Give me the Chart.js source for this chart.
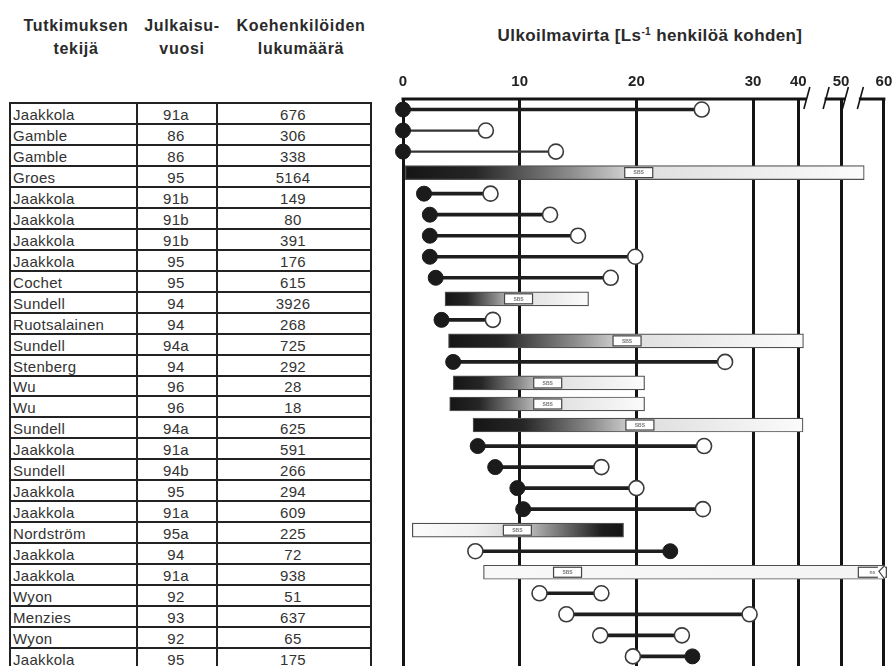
<!DOCTYPE html>
<html>
<head>
<meta charset="utf-8">
<script src="https://cdn.jsdelivr.net/npm/chart.js@4.4.0/dist/chart.umd.min.js"></script>
<style>
  html, body { margin: 0; padding: 0; background: #fff; }
  body { width: 893px; height: 666px; position: relative; overflow: hidden;
         font-family: 'Liberation Sans', Arial, sans-serif; color: #2a2a2a; }
  .head { position: absolute; top: 14px; text-align: center; font-weight: bold;
          font-size: 16px; letter-spacing: 0.7px; line-height: 23px; }
  #title { position: absolute; left: 440px; width: 420px; top: 26px; text-align: center;
           font-weight: bold; font-size: 17px; letter-spacing: 0.4px; line-height: 20px; }
  #title sup { font-size: 10px; vertical-align: 6px; line-height: 0; }
  #table { position: absolute; left: 9px; top: 102px; width: 363px; height: 568px;
           border: 2px solid #222; box-sizing: border-box; }
  .row { position: absolute; left: 0; right: 0; height: 21px; box-sizing: border-box;
         border-bottom: 2px solid #222; font-size: 15px; letter-spacing: 0.3px;
         line-height: 20px; color: #333; }
  .row span { position: absolute; top: 1px; white-space: nowrap; }
  .vline { position: absolute; top: 0; bottom: 0; width: 2px; background: #222; }
  #wrap { position: absolute; left: 380px; top: 0; width: 513px; height: 676px; }
</style>
</head>
<body>
<div class="head" style="left:0;width:152px">Tutkimuksen<br>tekijä</div>
<div class="head" style="left:132px;width:100px">Julkaisu-<br>vuosi</div>
<div class="head" style="left:226px;width:150px">Koehenkilöiden<br>lukumäärä</div>
<div id="title">Ulkoilmavirta [Ls<sup>-1</sup> henkilöä kohden]</div>
<div id="table"></div>
<div id="wrap"><canvas id="c"></canvas></div>
<script>
// table columns
const AUTHORS = ['Jaakkola','Gamble','Gamble','Groes','Jaakkola','Jaakkola','Jaakkola','Jaakkola','Cochet',
  'Sundell','Ruotsalainen','Sundell','Stenberg','Wu','Wu','Sundell','Jaakkola','Sundell','Jaakkola',
  'Jaakkola','Nordström','Jaakkola','Jaakkola','Wyon','Menzies','Wyon','Jaakkola'];
const YEARS = ['91a','86','86','95','91b','91b','91b','95','95','94','94','94a','94','96','96','94a',
  '91a','94b','95','91a','95a','94','91a','92','93','92','95'];
const SUBJECTS = [676,306,338,5164,149,80,391,176,615,3926,268,725,292,28,18,625,591,266,294,609,
  225,72,938,51,637,65,175];

// dumbbells: low / high end, F = filled dot, O = open dot
const DB_LOW  = [0,0,0,null,1.8,2.3,2.3,2.3,2.8,null,3.3,null,4.3,null,null,null,6.4,7.9,9.8,10.3,
  null,6.2,null,11.7,14.0,16.9,19.7];
const DB_HIGH = [25.6,7.1,13.1,null,7.5,12.6,15.0,19.9,17.8,null,7.7,null,27.6,null,null,null,25.8,
  17.0,20.0,25.7,null,22.9,null,17.0,29.7,23.9,24.8];
const LOW_KIND  = ['F','F','F',null,'F','F','F','F','F',null,'F',null,'F',null,null,null,'F','F','F','F',
  null,'O',null,'O','O','O','O'];
const HIGH_KIND = ['O','O','O',null,'O','O','O','O','O',null,'O',null,'O',null,null,null,'O','O','O','O',
  null,'F',null,'O','O','O','F'];

// SBS bars: range, label position, shading (L = dark left, R = dark right, N = none)
const BAR_FROM = [null,null,null,0.2,null,null,null,null,null,3.6,null,3.9,null,4.3,4.0,6.0,null,null,
  null,null,0.8,null,6.9,null,null,null,null];
const BAR_TO   = [null,null,null,55.4,null,null,null,null,null,15.9,null,41.2,null,20.7,20.7,41.1,null,
  null,null,null,18.9,null,60,null,null,null,null];
const BAR_SBS  = [null,null,null,20.2,null,null,null,null,null,9.9,null,19.2,null,12.4,12.4,20.3,null,
  null,null,null,9.8,null,14.1,null,null,null,null];
const BAR_SHADE = [null,null,null,'L',null,null,null,null,null,'L',null,'L',null,'L','L','L',null,null,
  null,null,'R',null,'N',null,null,null,null];
const NS_AT = 57.3;   // second box on the open-ended bar
const NS_ROW = 22;

const X_TICKS = [0,10,20,30,40,50,60];

// broken axis: linear 0-30, compressed after
const AXIS_VALUES = [0, 30, 40, 50, 60];
const AXIS_FRACS  = [0, 0.728, 0.822, 0.911, 1];
const AXIS_BREAKS = [[42, 46.5], [51, 54.5]];

// ---- table
const tbl = document.getElementById('table');
AUTHORS.forEach((a, i) => {
  const r = document.createElement('div');
  r.className = 'row';
  r.style.top = (i * 20.96) + 'px';
  if (i === AUTHORS.length - 1) r.style.borderBottom = 'none';
  r.innerHTML = '<span style="left:2px">' + a + '</span>' +
    '<span style="left:125px;width:80px;text-align:center">' + YEARS[i] + '</span>' +
    '<span style="left:205px;width:154px;text-align:center">' + SUBJECTS[i] + '</span>';
  tbl.appendChild(r);
});
[125, 205].forEach(x => {
  const v = document.createElement('div');
  v.className = 'vline';
  v.style.left = x + 'px';
  tbl.appendChild(v);
});

// ---- scale
class BrokenScale extends Chart.LinearScale {
  getPixelForValue(value) {
    const n = AXIS_VALUES.length;
    const v = Math.max(AXIS_VALUES[0], Math.min(value, AXIS_VALUES[n - 1]));
    let k = 0;
    while (k < n - 2 && v > AXIS_VALUES[k + 1]) k++;
    const t = (v - AXIS_VALUES[k]) / (AXIS_VALUES[k + 1] - AXIS_VALUES[k]);
    return this.getPixelForDecimal(AXIS_FRACS[k] + t * (AXIS_FRACS[k + 1] - AXIS_FRACS[k]));
  }
  getValueForPixel(pixel) {
    const d = this.getDecimalForPixel(pixel);
    let k = 0;
    while (k < AXIS_FRACS.length - 2 && d > AXIS_FRACS[k + 1]) k++;
    const t = (d - AXIS_FRACS[k]) / (AXIS_FRACS[k + 1] - AXIS_FRACS[k]);
    return AXIS_VALUES[k] + t * (AXIS_VALUES[k + 1] - AXIS_VALUES[k]);
  }
}
BrokenScale.id = 'broken';
BrokenScale.defaults = Chart.LinearScale.defaults;
Chart.register(BrokenScale);

const rowIdx = AUTHORS.map((a, i) => i);
const THIN = [1, 2];

function pts(kind) {
  const out = [];
  rowIdx.forEach(i => {
    if (LOW_KIND[i] === kind) out.push({ x: DB_LOW[i], y: i });
    if (HIGH_KIND[i] === kind) out.push({ x: DB_HIGH[i], y: i });
  });
  return out;
}

function barFill(ctx) {
  const chart = ctx.chart;
  const i = ctx.dataIndex;
  if (!chart.chartArea || BAR_FROM[i] == null) return '#ccc';
  const xs = chart.scales.x;
  const x0 = xs.getPixelForValue(BAR_FROM[i]), x1 = xs.getPixelForValue(BAR_TO[i]);
  const m = Math.min(1, Math.max(0, (xs.getPixelForValue(BAR_SBS[i]) - x0) / (x1 - x0)));
  const g = chart.ctx.createLinearGradient(x0, 0, x1, 0);
  if (BAR_SHADE[i] === 'L') {
    g.addColorStop(0, '#151515');
    g.addColorStop(m * 0.3, '#262626');
    g.addColorStop(m * 0.7, '#8a8a8a');
    g.addColorStop(m, '#dedede');
    g.addColorStop(1, '#fbfbfb');
  } else if (BAR_SHADE[i] === 'R') {
    g.addColorStop(0, '#fcfcfc');
    g.addColorStop(m * 0.6, '#f0f0f0');
    g.addColorStop(m, '#d4d4d4');
    g.addColorStop(m + (1 - m) * 0.45, '#6a6a6a');
    g.addColorStop(m + (1 - m) * 0.8, '#1c1c1c');
    g.addColorStop(1, '#151515');
  } else {
    g.addColorStop(0, '#f8f8f8');
    g.addColorStop(1, '#f4f4f4');
  }
  return g;
}

const decor = {
  id: 'decor',
  beforeDatasetsDraw(chart) {
    const { ctx, chartArea } = chart;
    const xs = chart.scales.x;
    const y = chartArea.top;
    const cuts = [AXIS_VALUES[0]];
    AXIS_BREAKS.forEach(b => cuts.push(b[0], b[1]));
    cuts.push(AXIS_VALUES[AXIS_VALUES.length - 1]);
    ctx.save();
    ctx.strokeStyle = '#141414';
    ctx.lineWidth = 3;
    for (let k = 0; k < cuts.length; k += 2) {
      ctx.beginPath();
      ctx.moveTo(xs.getPixelForValue(cuts[k]) - 1.5, y);
      ctx.lineTo(xs.getPixelForValue(cuts[k + 1]) + (k + 2 >= cuts.length ? 1.5 : 0), y);
      ctx.stroke();
    }
    ctx.lineWidth = 1.6;
    AXIS_BREAKS.forEach(b => b.forEach(v => {
      const px = xs.getPixelForValue(v);
      ctx.beginPath();
      ctx.moveTo(px - 3, y + 10);
      ctx.lineTo(px + 3, y - 12);
      ctx.stroke();
    }));
    ctx.restore();
  },
  afterDatasetsDraw(chart) {
    const { ctx } = chart;
    const xs = chart.scales.x, ys = chart.scales.y;
    const box = (v, row, txt) => {
      const cx = xs.getPixelForValue(v), cy = ys.getPixelForValue(row);
      ctx.fillStyle = '#fff';
      ctx.strokeStyle = '#444';
      ctx.lineWidth = 1.2;
      ctx.fillRect(cx - 14, cy - 5, 28, 10);
      ctx.strokeRect(cx - 14, cy - 5, 28, 10);
      ctx.fillStyle = '#777';
      ctx.font = 'bold 5px "Liberation Sans", Arial';
      ctx.textAlign = 'center';
      ctx.textBaseline = 'middle';
      ctx.fillText(txt, cx, cy + 0.5);
    };
    ctx.save();
    rowIdx.forEach(i => { if (BAR_SBS[i] != null) box(BAR_SBS[i], i, 'SBS'); });
    box(NS_AT, NS_ROW, 'ns');
    // open end of the last bar
    const ex = xs.getPixelForValue(BAR_TO[NS_ROW]), ey = ys.getPixelForValue(NS_ROW);
    ctx.fillStyle = '#fff';
    ctx.fillRect(ex - 6, ey - 6, 7, 12);
    ctx.strokeStyle = '#444';
    ctx.lineWidth = 1.2;
    ctx.beginPath();
    ctx.moveTo(ex + 1, ey - 7);
    ctx.lineTo(ex - 5, ey - 1);
    ctx.lineTo(ex + 1, ey + 7);
    ctx.stroke();
    ctx.restore();
  }
};

new Chart(document.getElementById('c'), {
  type: 'bar',
  data: {
    labels: rowIdx,
    datasets: [
      {
        type: 'scatter', data: pts('F'), order: 0, clip: false,
        pointRadius: 7.5, pointHoverRadius: 7.5,
        pointBackgroundColor: '#1b1b1b', pointBorderColor: '#1b1b1b', pointBorderWidth: 1
      },
      {
        type: 'scatter', data: pts('O'), order: 0, clip: false,
        pointRadius: 7.5, pointHoverRadius: 7.5,
        pointBackgroundColor: '#fff', pointBorderColor: '#3a3a3a', pointBorderWidth: 1.6
      },
      {
        data: rowIdx.map(i => DB_LOW[i] != null && !THIN.includes(i) ? [DB_LOW[i], DB_HIGH[i]] : null),
        backgroundColor: '#1e1e1e', barThickness: 3, grouped: false, order: 1
      },
      {
        data: rowIdx.map(i => THIN.includes(i) ? [DB_LOW[i], DB_HIGH[i]] : null),
        backgroundColor: '#333', barThickness: 1.6, grouped: false, order: 1
      },
      {
        data: rowIdx.map(i => BAR_FROM[i] != null ? [BAR_FROM[i], BAR_TO[i]] : null),
        backgroundColor: barFill, borderColor: '#505050', borderWidth: 1.2,
        borderSkipped: false, barThickness: 14, grouped: false, order: 2
      }
    ]
  },
  options: {
    indexAxis: 'y',
    responsive: true,
    maintainAspectRatio: false,
    animation: false,
    layout: { padding: { left: 23, right: 8, top: 69, bottom: 0 } },
    plugins: { legend: { display: false }, tooltip: { enabled: false } },
    scales: {
      x: {
        type: 'broken', position: 'top', min: 0, max: 60,
        afterBuildTicks: s => { s.ticks = X_TICKS.map(v => ({ value: v })); },
        afterFit: s => { s.height = 30; s.paddingLeft = 0; s.paddingRight = 0; },
        grid: { color: '#141414', lineWidth: 3, drawTicks: false },
        border: { display: false },
        ticks: { color: '#222', padding: 8, font: { size: 15, weight: 'bold', family: "'Liberation Sans', Arial" } }
      },
      y: { type: 'category', display: false, offset: true }
    }
  },
  plugins: [decor]
});
</script>
</body>
</html>
